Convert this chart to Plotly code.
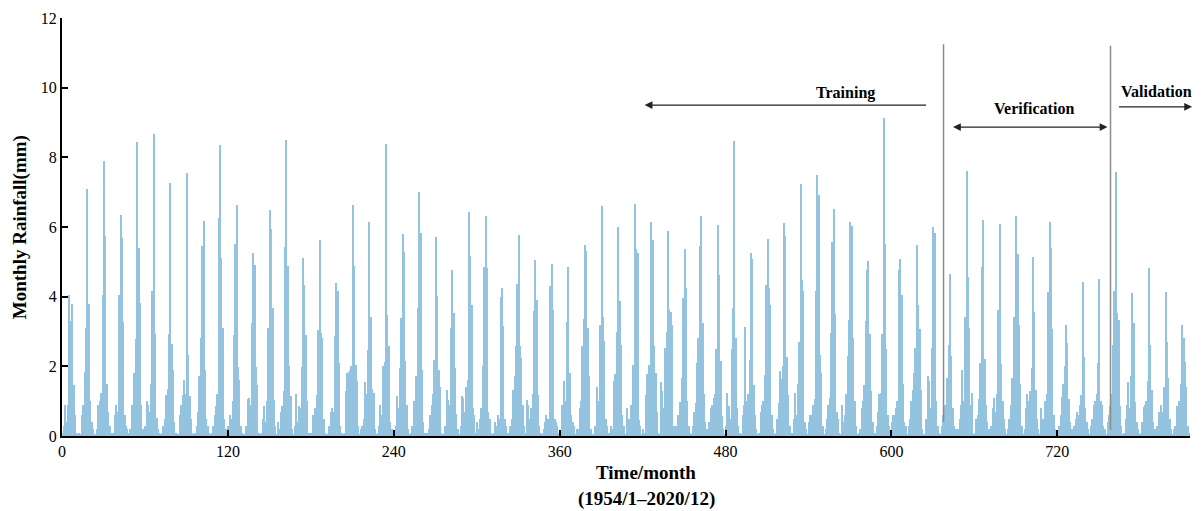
import plotly.graph_objects as go

# Monthly rainfall (mm), one row per year, Jan..Dec
rain_rows = [
    [0.10, 0.30, 0.90, 0.40, 0.90, 4.05, 3.30, 3.78, 1.47, 0.60, 0.10, 0.05],
    [0.10, 0.05, 0.60, 0.90, 1.83, 3.10, 7.09, 3.80, 1.00, 0.40, 0.20, 0.05],
    [0.05, 0.20, 0.90, 1.00, 1.23, 4.05, 7.89, 5.75, 1.50, 0.70, 0.30, 0.10],
    [0.10, 0.10, 0.60, 0.90, 0.70, 4.05, 6.34, 5.69, 3.27, 0.60, 0.30, 0.20],
    [0.10, 0.20, 0.90, 0.80, 1.80, 2.78, 8.43, 5.40, 3.83, 0.90, 0.20, 0.05],
    [0.30, 1.00, 0.90, 0.70, 1.49, 4.15, 8.68, 2.93, 0.52, 0.20, 0.10, 0.05],
    [0.10, 0.30, 0.50, 1.17, 1.36, 2.93, 7.25, 2.65, 1.90, 0.40, 0.10, 0.05],
    [0.05, 0.60, 0.90, 1.18, 1.61, 1.20, 7.54, 2.33, 1.14, 0.50, 0.10, 0.05],
    [0.10, 0.30, 0.70, 1.73, 2.81, 5.46, 6.17, 1.90, 0.50, 0.30, 0.10, 0.05],
    [0.10, 0.30, 0.60, 0.87, 1.20, 6.25, 8.35, 5.10, 3.11, 0.50, 0.20, 0.05],
    [0.30, 0.60, 0.50, 1.00, 2.90, 5.50, 6.62, 1.97, 1.61, 0.30, 0.10, 0.05],
    [0.05, 0.30, 1.06, 1.10, 0.90, 3.24, 5.26, 4.91, 1.97, 1.47, 0.10, 0.05],
    [0.10, 0.50, 0.87, 0.40, 1.00, 3.10, 6.49, 5.94, 3.67, 1.02, 0.30, 0.05],
    [0.40, 0.20, 0.70, 0.85, 1.30, 5.43, 8.51, 4.88, 2.00, 1.14, 0.20, 0.05],
    [0.30, 1.20, 0.40, 0.87, 0.80, 1.98, 5.10, 4.34, 2.90, 1.00, 0.10, 0.05],
    [0.10, 0.60, 0.30, 0.80, 1.18, 3.05, 5.64, 2.97, 2.81, 0.50, 0.10, 0.05],
    [0.05, 0.30, 0.70, 0.80, 0.70, 2.86, 4.40, 4.17, 2.11, 0.30, 0.10, 0.05],
    [0.10, 1.28, 1.80, 1.85, 1.90, 2.00, 6.62, 4.88, 2.04, 1.57, 0.30, 0.05],
    [0.20, 0.30, 0.50, 1.54, 1.20, 2.47, 6.13, 3.41, 1.35, 1.23, 0.20, 0.05],
    [0.10, 0.30, 0.90, 0.60, 2.00, 2.12, 8.38, 3.48, 2.59, 0.40, 0.20, 0.05],
    [0.10, 0.30, 1.16, 0.80, 1.95, 3.38, 5.81, 5.29, 2.14, 0.89, 0.20, 0.05],
    [0.10, 0.30, 1.01, 0.90, 1.71, 3.67, 7.01, 5.82, 1.90, 0.40, 0.10, 0.05],
    [0.10, 0.20, 0.60, 0.90, 1.20, 2.19, 5.70, 4.02, 1.90, 1.40, 0.10, 0.05],
    [0.05, 0.30, 1.31, 1.02, 0.90, 3.10, 4.77, 3.52, 1.95, 0.63, 0.20, 0.05],
    [0.30, 1.16, 1.09, 0.70, 1.40, 1.60, 6.44, 5.17, 3.76, 0.80, 0.60, 0.10],
    [0.40, 0.20, 0.50, 0.80, 2.00, 4.84, 6.31, 4.81, 0.70, 0.50, 0.10, 0.05],
    [0.10, 0.40, 0.30, 0.60, 0.50, 4.00, 4.24, 3.16, 0.49, 0.30, 0.10, 0.05],
    [0.30, 0.50, 1.33, 1.73, 2.57, 4.36, 5.76, 2.57, 2.23, 0.90, 0.30, 0.10],
    [1.04, 0.90, 0.50, 0.80, 1.20, 3.59, 5.05, 3.91, 1.18, 0.30, 0.10, 0.05],
    [0.20, 0.40, 0.60, 0.50, 0.50, 4.31, 4.93, 3.62, 0.50, 0.40, 0.30, 0.10],
    [0.10, 0.90, 0.90, 1.57, 1.00, 3.28, 4.86, 1.81, 0.60, 0.40, 0.30, 0.05],
    [0.20, 0.20, 0.80, 1.00, 2.59, 3.35, 5.48, 5.31, 3.10, 1.73, 0.20, 0.05],
    [0.05, 0.30, 0.30, 1.42, 1.00, 3.20, 6.60, 3.43, 2.74, 0.50, 0.30, 0.10],
    [0.05, 0.30, 0.20, 1.59, 1.77, 3.00, 5.99, 3.88, 2.62, 0.60, 0.30, 0.05],
    [0.80, 0.30, 0.50, 0.90, 0.50, 2.04, 6.65, 5.36, 5.24, 0.45, 0.30, 0.05],
    [0.20, 0.10, 1.18, 1.78, 2.04, 2.00, 6.13, 5.64, 2.59, 1.80, 0.70, 0.10],
    [0.05, 1.54, 1.30, 0.80, 2.52, 3.00, 5.88, 3.62, 3.55, 3.19, 0.30, 0.10],
    [0.30, 0.60, 0.60, 0.98, 1.66, 3.95, 5.36, 4.24, 1.00, 0.30, 0.10, 0.05],
    [0.30, 0.70, 0.95, 2.11, 2.81, 5.45, 6.33, 3.24, 1.20, 0.40, 0.20, 0.05],
    [0.40, 0.80, 0.90, 1.10, 1.20, 2.51, 6.05, 4.62, 2.14, 0.56, 0.20, 0.05],
    [0.30, 1.23, 0.85, 0.50, 2.49, 3.67, 8.47, 2.81, 0.80, 0.30, 0.10, 0.05],
    [0.60, 0.90, 3.12, 1.00, 1.20, 2.17, 5.26, 5.07, 1.45, 0.60, 0.20, 0.05],
    [0.10, 0.70, 0.90, 1.00, 1.76, 4.34, 5.66, 4.24, 3.76, 0.60, 0.20, 0.05],
    [0.10, 0.50, 0.95, 1.87, 1.63, 2.00, 6.12, 5.75, 2.28, 1.18, 0.30, 0.05],
    [0.10, 0.50, 1.23, 0.60, 1.50, 2.71, 7.23, 4.48, 4.15, 0.40, 0.20, 0.05],
    [0.40, 0.60, 0.60, 0.90, 1.06, 4.16, 7.49, 6.93, 2.33, 1.80, 0.30, 0.05],
    [0.20, 0.50, 0.90, 1.10, 2.95, 5.57, 6.53, 3.50, 0.70, 0.50, 0.10, 0.05],
    [0.90, 0.40, 0.60, 1.20, 2.30, 3.33, 6.15, 6.03, 2.81, 1.00, 0.30, 0.05],
    [0.10, 0.20, 0.80, 1.00, 1.47, 3.29, 4.77, 5.03, 2.93, 1.30, 0.40, 0.05],
    [0.10, 0.30, 0.70, 1.20, 1.23, 2.92, 9.14, 5.50, 2.49, 0.60, 0.30, 0.05],
    [0.40, 0.60, 0.61, 0.80, 1.00, 4.77, 5.07, 4.05, 1.50, 0.40, 0.30, 0.05],
    [0.30, 0.50, 1.00, 1.33, 1.80, 2.52, 5.49, 3.76, 3.07, 1.33, 0.20, 0.05],
    [0.05, 0.50, 1.71, 1.57, 0.80, 2.52, 6.01, 5.82, 1.00, 0.30, 0.10, 0.05],
    [0.30, 0.60, 0.90, 0.90, 1.66, 2.62, 4.65, 2.30, 0.80, 0.30, 0.20, 0.05],
    [0.20, 0.50, 0.90, 1.90, 1.00, 3.43, 7.60, 4.57, 3.10, 0.90, 1.23, 0.05],
    [0.10, 0.50, 0.60, 1.06, 2.09, 4.86, 6.20, 2.21, 0.90, 0.40, 0.20, 0.05],
    [0.30, 0.80, 1.09, 0.70, 1.20, 3.62, 6.10, 2.07, 1.00, 0.50, 0.20, 0.05],
    [0.20, 0.50, 0.90, 1.66, 3.43, 2.19, 6.31, 5.22, 3.19, 1.50, 0.30, 0.05],
    [0.20, 0.80, 1.21, 1.00, 1.30, 1.95, 5.15, 3.57, 1.33, 0.50, 0.20, 0.05],
    [0.80, 0.50, 0.40, 1.01, 1.20, 4.12, 6.13, 5.39, 3.07, 0.60, 0.20, 0.05],
    [0.10, 0.30, 0.60, 1.12, 1.50, 2.02, 3.19, 2.66, 1.06, 0.40, 0.20, 0.05],
    [0.30, 0.50, 0.70, 0.60, 0.90, 1.18, 4.43, 2.26, 0.80, 0.40, 0.20, 0.05],
    [0.30, 0.50, 0.90, 1.00, 1.20, 2.09, 4.50, 1.00, 0.90, 0.30, 0.20, 0.05],
    [0.40, 0.60, 0.85, 1.20, 2.62, 4.15, 7.57, 3.52, 3.33, 0.85, 0.30, 0.05],
    [0.10, 0.50, 0.90, 1.55, 0.80, 1.73, 4.10, 3.24, 0.99, 0.40, 0.20, 0.05],
    [0.10, 0.40, 0.83, 0.90, 1.00, 1.57, 4.83, 2.62, 1.33, 0.40, 0.20, 0.05],
    [0.30, 0.70, 0.60, 0.90, 0.70, 1.40, 4.13, 2.71, 1.66, 0.50, 0.20, 0.05],
    [0.20, 0.30, 0.85, 0.60, 1.00, 1.50, 3.19, 2.81, 2.12, 1.42, 0.30, 0.10],
]

x_ticks = [0, 120, 240, 360, 480, 600, 720]
y_ticks = [0, 2, 4, 6, 8, 10, 12]
split_months = [637.7, 758.5]
segment_labels = ["Training", "Verification", "Validation"]

rain = [v for row in rain_rows for v in row]
months = [i + 0.5 for i in range(len(rain))]

SERIF = "Liberation Serif, Times New Roman, serif"
BAR = "#94c3e0"

fig = go.Figure()
fig.add_trace(go.Bar(x=months, y=rain, width=1.0,
                     marker=dict(color=BAR, line=dict(width=0)),
                     showlegend=False, hoverinfo="x+y"))

# split lines
for xm, y0, y1 in [(split_months[0], 0.4, 11.25), (split_months[1], 0.17, 11.2)]:
    fig.add_shape(type="line", x0=xm, x1=xm, y0=y0, y1=y1, xref="x", yref="y",
                  line=dict(color="#8c8c8c", width=1.5))

# Training arrow (points left)
fig.add_annotation(x=421.5, y=9.5, ax=626.2, ay=9.5, xref="x", yref="y", axref="x", ayref="y",
                   showarrow=True, arrowhead=2, arrowsize=1.2, arrowwidth=1.3, arrowcolor="#222", text="")
# Verification arrow (double)
fig.add_annotation(x=756.3, y=8.87, ax=643.5, ay=8.87, xref="x", yref="y", axref="x", ayref="y",
                   showarrow=True, arrowhead=2, arrowside="end+start", arrowsize=1.2, arrowwidth=1.3,
                   arrowcolor="#222", text="")
# Validation arrow (points right)
fig.add_annotation(x=817.5, y=9.45, ax=763.6, ay=9.45, xref="x", yref="y", axref="x", ayref="y",
                   showarrow=True, arrowhead=2, arrowsize=1.2, arrowwidth=1.3, arrowcolor="#222", text="")

for txt, xm, ym in [(segment_labels[0], 566.9, 9.85), (segment_labels[1], 702.8, 9.4), (segment_labels[2], 791.5, 9.9)]:
    fig.add_annotation(x=xm, y=ym, xref="x", yref="y", text="<b>%s</b>" % txt, showarrow=False,
                       font=dict(family=SERIF, size=16, color="black"))

fig.add_annotation(x=0.518, y=-0.057, xref="paper", yref="paper", yanchor="top",
                   text="<b>Time/month</b>", showarrow=False, font=dict(family=SERIF, size=19, color="black"))
fig.add_annotation(x=0.518, y=-0.12, xref="paper", yref="paper", yanchor="top",
                   text="<b>(1954/1\u20132020/12)</b>", showarrow=False, font=dict(family=SERIF, size=19, color="black"))
fig.add_annotation(x=-0.037, y=0.5, xref="paper", yref="paper", xanchor="center", yanchor="middle",
                   textangle=-90, text="<b>Monthly Rainfall(mm)</b>", showarrow=False,
                   font=dict(family=SERIF, size=19, color="black"))

# The page places the figure 8px from the top-left corner, so size it to fit the window.
fig.update_layout(
    width=1195, height=503,
    margin=dict(l=54, r=13, t=10, b=75, autoexpand=False),
    plot_bgcolor="white", paper_bgcolor="white",
    bargap=0,
    font=dict(family=SERIF, size=16, color="black"),
    xaxis=dict(range=[0, 816], tickvals=x_ticks, ticktext=[str(t) for t in x_ticks],
               ticks="inside", ticklen=6, tickwidth=1.5, tickcolor="black", automargin=False,
               showline=True, linecolor="black", linewidth=2, showgrid=False, zeroline=False,
               tickfont=dict(family=SERIF, size=16)),
    yaxis=dict(range=[0, 12], tickvals=y_ticks, ticktext=[str(t) for t in y_ticks],
               ticks="inside", ticklen=6, tickwidth=1.5, tickcolor="black", automargin=False,
               showline=True, linecolor="black", linewidth=2, showgrid=False, zeroline=False,
               tickfont=dict(family=SERIF, size=16)),
)

fig.write_html("out.html")
